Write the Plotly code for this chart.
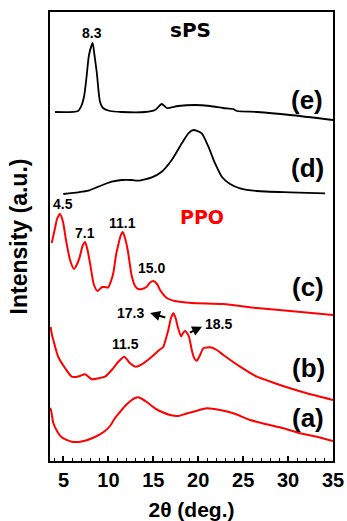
import plotly.graph_objects as go

# ---- data (2θ in degrees, intensity in arbitrary units) ----
e_x = [4.06, 6.62, 7.03, 7.32, 7.59, 7.84, 8.25, 8.45, 8.70, 9.07, 9.40, 10.18, 11.48, 14.08,
       15.19, 15.94, 16.50, 17.75, 19.65, 21.32, 22.77, 23.88, 24.32, 26.55, 30.23, 35.0]
e_y = [349, 350, 356, 366, 386, 406, 418, 406, 389, 359, 353, 350, 349, 349,
       351, 357, 353, 355, 356, 355, 353, 352, 350, 349, 346, 341]

d_x = [4.98, 6.65, 7.77, 8.88, 10.37, 11.48, 12.60, 13.33, 14.83, 15.94, 17.05, 18.17, 18.90,
       19.46, 20.39, 21.13, 21.87, 22.62, 23.54, 24.66, 26.52, 30.23, 34.12]
d_y = [267, 268.7, 270.3, 274.3, 279.3, 281, 281, 280.3, 283.7, 289.3, 301, 317.7, 327.7,
       331, 327.7, 314.3, 297.7, 284.3, 277, 272.7, 270, 268.7, 267.7]

c_x = [3.69, 4.06, 4.28, 4.61, 4.95, 5.28, 5.73, 6.17, 6.62, 6.84, 7.12, 7.40, 7.68, 7.95,
       8.40, 8.79, 9.29, 9.62, 9.96, 10.29, 10.55, 10.85, 11.07, 11.35, 11.60, 11.85, 12.15,
       12.60, 12.97, 13.33, 13.75, 14.27, 14.64, 15.00, 15.42, 15.75, 16.50, 17.42, 19.28,
       22.77, 26.52, 30.23, 35.0]
c_y = [218, 233, 242, 247, 239, 221, 201, 192, 199, 205, 215, 219, 211, 198,
       176, 170, 174, 174, 173.5, 180, 188, 206, 215, 225, 229, 223, 211,
       185, 175, 172, 172, 174.3, 178.5, 180, 177, 171, 163, 160, 158,
       157, 153, 150, 146]

b_x = [3.56, 3.72, 3.87, 4.17, 4.42, 5.17, 5.92, 6.65, 7.40, 8.14, 8.88, 9.62, 10.37, 11.11,
       11.77, 12.41, 13.04, 13.89, 14.83, 15.56, 16.12, 16.42, 16.67, 16.97, 17.23, 17.48,
       17.72, 18.09, 18.31, 18.53, 18.76, 18.98, 19.28, 19.54, 19.84, 20.20, 20.57, 21.32,
       22.06, 22.80, 24.66, 26.52, 28.37, 30.23, 32.09, 35.0]
b_y = [134, 126, 121, 111, 104, 93, 84.3, 84.5, 86.7, 81.7, 82.7, 84.3, 91, 99.3,
       104.3, 97.7, 94.3, 97.7, 104.3, 110.3, 114.3, 123, 131, 143, 147.7, 143,
       134.3, 124.5, 128, 130, 128, 124, 111, 103, 100.3, 106, 112.7, 113.7,
       111, 106, 94.3, 84.3, 78.3, 72.7, 67.7, 61]

a_x = [3.5, 3.61, 3.87, 4.28, 4.80, 5.92, 7.03, 8.51, 9.62, 10.18, 10.74, 11.29, 11.85, 12.60,
       12.97, 13.33, 13.75, 14.27, 15.19, 15.97, 16.86, 17.79, 18.53, 19.46, 20.95, 22.43,
       23.91, 25.77, 27.63, 29.48, 31.34, 33.20, 35.0]
a_y = [53, 51, 38, 30, 23.7, 19.3, 19.5, 24, 30, 35, 43, 49, 55, 61,
       63, 63.7, 62, 59, 52.7, 49, 46, 45, 47, 49.3, 52.7, 51,
       47.7, 41, 36.7, 32.7, 27.7, 24.3, 20]

x_ticks = [5, 10, 15, 20, 25, 30, 35]

RED = "#FF0000"
BLACK = "#000000"
AX_FONT = "Arial, Liberation Sans, sans-serif"
LBL_FONT = "DejaVu Sans, sans-serif"

fig = go.Figure()
for xs, ys, col, w in [(a_x, a_y, RED, 2), (b_x, b_y, RED, 2), (c_x, c_y, RED, 2),
                       (d_x, d_y, BLACK, 1.8), (e_x, e_y, BLACK, 1.8)]:
    fig.add_trace(go.Scatter(x=xs, y=ys, mode="lines",
                             line=dict(color=col, width=w, shape="spline", smoothing=0.6),
                             showlegend=False, hoverinfo="skip"))

def txt(x, y, s, size, color=BLACK, family=AX_FONT):
    fig.add_annotation(x=x, y=y, text="<b>%s</b>" % s, showarrow=False,
                       font=dict(family=family, size=size, color=color), xref="x", yref="y")

txt(8.18, 428, "8.3", 14)
txt(19.09, 431, "sPS", 20, family=LBL_FONT)
txt(32.12, 361, "(e)", 26)
txt(32.12, 293, "(d)", 26)
txt(4.98, 257, "4.5", 14)
txt(7.40, 228, "7.1", 14)
txt(11.60, 238, "11.1", 14)
txt(14.83, 193, "15.0", 14)
txt(20.39, 244, "PPO", 19, RED, family=LBL_FONT)
txt(32.23, 174, "(c)", 26)
txt(12.41, 148, "17.3", 14)
txt(22.24, 137, "18.5", 14)
txt(11.85, 117, "11.5", 14)
txt(32.23, 93, "(b)", 26)
txt(32.23, 43, "(a)", 26)

# arrows
fig.add_annotation(x=14.64, y=148, ax=16.50, ay=143, xref="x", yref="y", axref="x", ayref="y",
                   text="", showarrow=True, arrowhead=2, arrowsize=1, arrowwidth=2, arrowcolor=BLACK)
fig.add_annotation(x=20.43, y=134.3, ax=18.90, ay=127.7, xref="x", yref="y", axref="x", ayref="y",
                   text="", showarrow=True, arrowhead=2, arrowsize=1, arrowwidth=2, arrowcolor=BLACK)

fig.update_layout(
    width=347, height=521,
    margin=dict(l=50, r=14, t=12, b=60, autoexpand=False),
    paper_bgcolor="white", plot_bgcolor="white",
    xaxis=dict(range=[3.5, 35], tickvals=x_ticks, ticktext=["<b>%d</b>" % v for v in x_ticks],
               ticks="inside", ticklen=5, tickwidth=1.5, tickcolor=BLACK,
               minor=dict(ticks="inside", ticklen=3, dtick=1, tick0=0, tickcolor=BLACK, tickwidth=1.2),
               showline=True, linecolor=BLACK, linewidth=2, mirror=True,
               showgrid=False, zeroline=False, automargin=False,
               ticklabeloverflow="allow",
               tickfont=dict(family=AX_FONT, size=20, color=BLACK),
               title=dict(text="<b>2θ (deg.)</b>", font=dict(family=AX_FONT, size=21, color=BLACK), standoff=14)),
    yaxis=dict(range=[0, 449], showticklabels=False, ticks="",
               showline=True, linecolor=BLACK, linewidth=2, mirror=True,
               showgrid=False, zeroline=False, automargin=False,
               title=dict(text="<b>Intensity (a.u.)</b>", font=dict(family=AX_FONT, size=23, color=BLACK), standoff=14)),
)

fig.write_html("out.html", config={"displayModeBar": False},
               post_script="document.body.style.margin='0';document.body.style.overflow='hidden';")
